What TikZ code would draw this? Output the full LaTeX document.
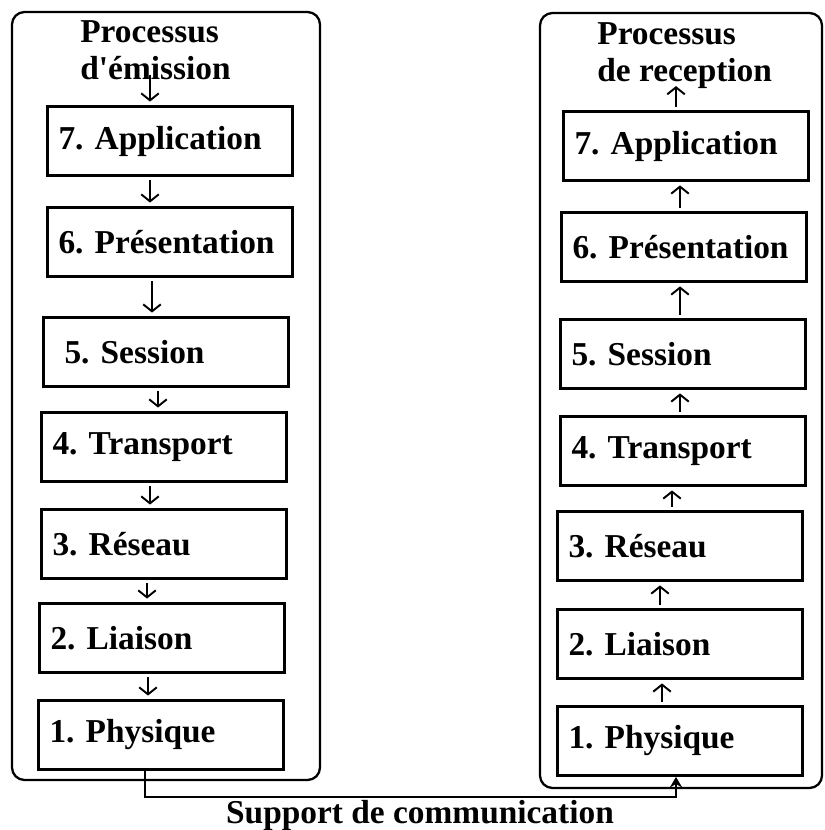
\documentclass[tikz,border=0pt]{standalone}
\usepackage{fontspec}
\setmainfont{Liberation Serif}
\usepackage{tikz}
\usetikzlibrary{arrows.meta, positioning, calc}
\frenchspacing
\tikzset{
    layer/.style={rectangle, draw, line width=1.6pt, minimum width=4.9cm, minimum height=1.38cm, inner xsep=0.22cm, text width=4.46cm, align=left, font=\bfseries\fontsize{19}{22}\selectfont},
    title/.style={align=left, inner sep=0pt, font=\bfseries\fontsize{19}{21}\selectfont},
    frame/.style={draw, line width=1.3pt, rounded corners=0.25cm},
    arrow/.style={-{Straight Barb[length=4pt, width=10pt]}, line width=1.1pt, shorten <=2pt, shorten >=2pt},
    link/.style={-{Stealth[length=6pt, width=7pt]}, line width=1pt}
}
\begin{document}
\begin{tikzpicture}[x=0.02cm, y=-0.02cm]
    \useasboundingbox (0,0) rectangle (824,830);

    % Emission side
    \draw[frame] (12,12) rectangle (320,780);
    \node[title, anchor=north west] (titleE) at (80,20) {Processus\\d\textquotesingle émission};
    \node[layer] (e7) at (170,141) {7. Application};
    \node[layer] (e6) at (170,242) {6. Présentation};
    \node[layer] (e5) at (166,352) {\hspace*{0.2cm}5. Session};
    \node[layer] (e4) at (164,447) {4. Transport};
    \node[layer] (e3) at (164,544) {3. Réseau};
    \node[layer] (e2) at (162,638) {2. Liaison};
    \node[layer] (e1) at (161,735) {1. Physique};

    % Reception side
    \draw[frame] (540,13) rectangle (822,788);
    \node[title, anchor=north west] (titleR) at (597,22) {Processus\\de reception};
    \node[layer] (r7) at (686,146) {7. Application};
    \node[layer] (r6) at (684,247) {6. Présentation};
    \node[layer] (r5) at (683,354) {5. Session};
    \node[layer] (r4) at (683,451) {4. Transport};
    \node[layer] (r3) at (680,546) {3. Réseau};
    \node[layer] (r2) at (680,644) {2. Liaison};
    \node[layer] (r1) at (680,741) {1. Physique};

    % Arrows down
    \draw[arrow] ($(titleE.south -| 150,0)+(0,-8)$) -- (e7.north -| 150,0);
    \draw[arrow] (e7.south -| 150,0) -- (e6.north -| 150,0);
    \draw[arrow] (e6.south -| 152,0) -- (e5.north -| 152,0);
    \draw[arrow] (e5.south -| 158,0) -- (e4.north -| 158,0);
    \draw[arrow] (e4.south -| 150,0) -- (e3.north -| 150,0);
    \draw[arrow] (e3.south -| 147,0) -- (e2.north -| 147,0);
    \draw[arrow] (e2.south -| 148,0) -- (e1.north -| 148,0);

    % Arrows up
    \draw[arrow] (r7.north -| 676,0) -- ($(titleR.south -| 676,0)+(0,-6)$);
    \draw[arrow] (r6.north -| 680,0) -- (r7.south -| 680,0);
    \draw[arrow] (r5.north -| 680,0) -- (r6.south -| 680,0);
    \draw[arrow] (r4.north -| 680,0) -- (r5.south -| 680,0);
    \draw[arrow] (r3.north -| 672,0) -- (r4.south -| 672,0);
    \draw[arrow] (r2.north -| 660,0) -- (r3.south -| 660,0);
    \draw[arrow] (r1.north -| 662,0) -- (r2.south -| 662,0);

    % Support
    \draw[link] (e1.south -| 145,0) |- (676,797) -- (r1.south -| 676,0);
    \node[title] (support) at (420,815) {Support de communication};
\end{tikzpicture}
\end{document}
